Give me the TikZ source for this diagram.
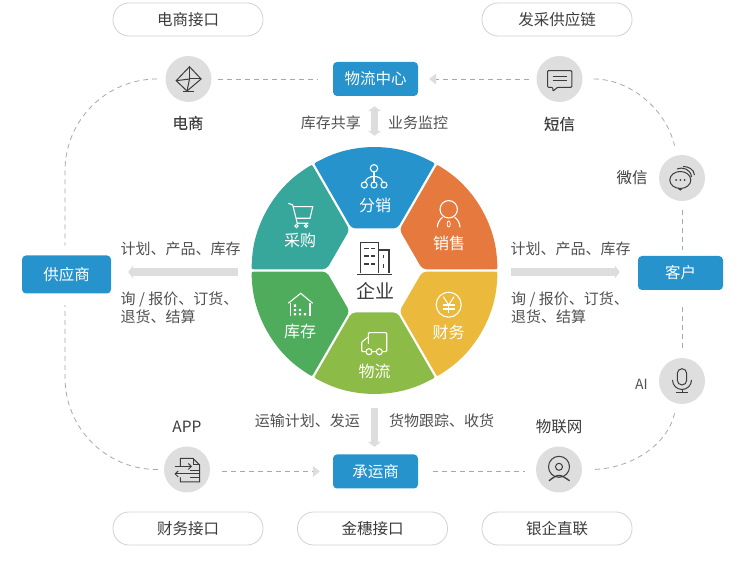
\documentclass[tikz,border=0pt]{standalone}
\usepackage{fontspec}
\setmainfont{Noto Sans CJK SC}
\newfontfamily\strongfont[FakeBold=0.25]{Noto Sans CJK SC}
\usetikzlibrary{arrows.meta}
\definecolor{boxblue}{HTML}{2793CC}
\definecolor{secteal}{HTML}{37A79C}
\definecolor{secorange}{HTML}{E67A3E}
\definecolor{secyellow}{HTML}{EBB93B}
\definecolor{secolive}{HTML}{8DBB48}
\definecolor{secgreen}{HTML}{4FAC5C}
\definecolor{roundgray}{HTML}{DEDEDE}
\definecolor{arrowgray}{HTML}{DDDDDD}
\definecolor{dashgray}{HTML}{A8A8A8}
\definecolor{pillgray}{HTML}{D2D2D2}
\definecolor{textgray}{HTML}{505050}
\definecolor{darkgray}{HTML}{3C3C3C}

\begin{document}
\begin{tikzpicture}[x=1pt,y=1pt,
    pill/.style={draw=pillgray,line width=0.8pt,fill=white,rounded corners=16pt,minimum width=150pt,minimum height=33pt,text=darkgray,font=\fontsize{15.5}{18}\selectfont},
    bluebox/.style={fill=boxblue,rounded corners=4pt,text=white,font=\fontsize{15.5}{18}\selectfont},
    roundbg/.style={circle,fill=roundgray,minimum size=46pt,inner sep=0pt},
    itemname/.style={text=darkgray,font=\fontsize{15.5}{18}\selectfont},
    sidenote/.style={text=textgray,align=left,inner sep=0pt,font=\fontsize{15}{18}\selectfont},
    seclabel/.style={text=white,font=\fontsize{16}{18}\selectfont},
    dashline/.style={draw=dashgray,line width=0.8pt,dash pattern=on 5pt off 4pt},
    bigarrow/.style={draw=arrowgray,line width=7.5pt},
    dashtip/.tip={Triangle[length=7pt,width=11pt,color=arrowgray]},
    bigtip/.tip={Triangle[length=5pt,width=13pt]},
    icon/.style={draw=darkgray,line width=1pt},
    wicon/.style={draw=white,line width=1.1pt}]
  \useasboundingbox (0,0) rectangle (749,572);
  \foreach \ang/\col in {0/boxblue,-60/secorange,-120/secyellow,180/secolive,120/secgreen,60/secteal} {
    \fill[\col,rotate around={\ang:(374.5,301.5)},rounded corners=4pt]
      (351.65,343.5) -- (317.5,402.7) .. controls (314,408.7) .. (322.5,413)
      arc[start angle=115,end angle=65,radius=123] .. controls (435,408.7) .. (431.5,402.7) -- (397.35,343.5) -- cycle;
  }
  \node[circle,minimum size=272pt,inner sep=0pt] (hub) at (374.5,300) {};
  \node[pill] (shoppingapi) at (188,552.5) {电商接口};
  \node[pill] (purchaseapi) at (557,552.5) {发采供应链};
  \node[pill] (financeapi) at (188,43.5) {财务接口};
  \node[pill] (jinsuiapi) at (372.5,43.5) {金穗接口};
  \node[pill] (bankapi) at (557,43.5) {银企直联};
  \node[bluebox,minimum width=85pt,minimum height=34pt] (center) at (375.5,493) {物流中心};
  \node[bluebox,minimum width=85pt,minimum height=34pt] (client) at (680.5,299) {客户};
  \node[bluebox,minimum width=89pt,minimum height=38pt] (supplier) at (66.5,297.5) {供应商};
  \node[bluebox,minimum width=85pt,minimum height=34pt] (carrier) at (375.5,100.5) {承运商};
  \node[roundbg] (elec) at (188.5,493) {};
  \node[roundbg] (sms) at (559.5,493) {};
  \node[roundbg] (wechat) at (682,394) {};
  \node[roundbg] (ai) at (682,191) {};
  \node[roundbg] (iot) at (559,102.5) {};
  \node[roundbg] (app) at (187,102.5) {};
  \node[itemname,font=\strongfont\fontsize{15.5}{18}\selectfont] (elecname) at (188,449) {电商};
  \node[itemname,font=\strongfont\fontsize{15.5}{18}\selectfont] (smsname) at (559.5,448) {短信};
  \node[itemname] (wechatname) at (632,394) {微信};
  \node[itemname,text=textgray,font=\fontsize{14}{18}\selectfont] (ainame) at (641.5,188) {AI};
  \node[itemname] (iotname) at (559,145.5) {物联网};
  \node[itemname] (appname) at (187,145.5) {APP};
  \node[sidenote,anchor=east] (stocknote) at (361,449) {库存共享};
  \node[sidenote,anchor=west] (monitornote) at (388,449) {业务监控};
  \node[sidenote,anchor=west] (supplierplan) at (120.5,323.5) {计划、产品、库存};
  \node[sidenote,anchor=north west] (supplierask) at (120.5,280) {询 / 报价、订货、\\退货、结算};
  \node[sidenote,anchor=west] (clientplan) at (510.5,323.5) {计划、产品、库存};
  \node[sidenote,anchor=north west] (clientask) at (511,280) {询 / 报价、订货、\\退货、结算};
  \node[sidenote,anchor=east] (shipnote) at (360,151) {运输计划、发运};
  \node[sidenote,anchor=west] (tracknote) at (389,151) {货物跟踪、收货};
  \node[seclabel] (distlabel) at (375,367) {分销};
  \node[seclabel] (salelabel) at (449,329) {销售};
  \node[seclabel] (fundlabel) at (448.5,240) {财务};
  \node[seclabel] (shiplabel) at (374.5,201) {物流};
  \node[seclabel] (stocklabel) at (300,241) {库存};
  \node[seclabel] (buylabel) at (300,332) {采购};
  \node[text=darkgray,font=\fontsize{19}{20}\selectfont] (firmlabel) at (375,281) {企业};
  \draw[dashline,-dashtip,shorten <=7.5pt,shorten >=11pt] (sms) -- (center);
  \draw[dashline,shorten <=6.5pt,shorten >=15pt] (elec) -- (center);
  \draw[dashline,rounded corners=92pt,shorten <=8.5pt,shorten >=10pt] (elec) -| ([xshift=-1.5pt]supplier.north);
  \draw[dashline,rounded corners=92pt,shorten <=6pt,shorten >=11.5pt] (app) -| ([xshift=-1.5pt]supplier.south);
  \draw[dashline,-dashtip,shorten <=12pt,shorten >=13pt] (app.east |- carrier.west) -- (carrier.west);
  \draw[dashline,shorten <=15pt,shorten >=11pt] (carrier.east) -- (carrier.east -| iot.west);
  \draw[dashline,shorten <=11pt,shorten >=10pt] (sms) to[out=0,in=103] (wechat);
  \draw[dashline,shorten <=9pt,shorten >=6pt] (wechat.south) -- (wechat.south |- client.north);
  \draw[dashline,shorten <=17pt,shorten >=8pt] (ai.north |- client.south) -- (ai.north);
  \draw[dashline,shorten <=10pt,shorten >=9pt] (ai) to[out=-103,in=0] (iot);
  \draw[bigarrow,-bigtip,shorten >=17pt] (hub.west) -- (hub.west -| supplier.east);
  \draw[bigarrow,-bigtip,shorten >=18pt] (hub.east) -- (hub.east -| client.west);
  \draw[bigarrow,bigtip-bigtip,shorten >=10pt] (hub.north) -- (hub.north |- center.south);
  \draw[bigarrow,-bigtip,shorten >=7.5pt] (hub.south) -- (hub.south |- carrier.north);
  \begin{scope}[shift={(elec)}]
    \draw[icon] (1,12.3) -- (12.6,0) -- (-1.5,-12) -- (-12.3,-1.7) -- cycle;
    \draw[icon] (1,12.3) -- (1,0) -- (12.6,0);
    \draw[icon] (-12.3,-1.7) -- (1,0) -- (-1.5,-12);
    \draw[icon] (-5.6,-12.6) -- (5.6,-12.6);
  \end{scope}
  \begin{scope}[shift={(sms)}]
    \draw[icon,rounded corners=1pt] (-12,8.3) -- (12.3,8.3) -- (12.3,-8.3) -- (-2,-8.3) -- (-6.7,-12.3) -- (-6.7,-8.3) -- (-12,-8.3) -- cycle;
    \draw[icon] (-7,2.3) -- (7,2.3);
    \draw[icon] (-7,-1.7) -- (7,-1.7);
  \end{scope}
  \begin{scope}[shift={(wechat)}]
    \draw[icon] (-1.7,-2) ellipse[x radius=10.5,y radius=8.5];
    \draw[icon] (-4,-10.3) -- (-1.5,-12) -- (0,-10.5);
    \draw[icon] (-5,9) .. controls (0,11.5) and (9,9) .. (9.5,1);
    \draw[icon] (1,11.5) .. controls (6,11.5) and (12,9) .. (12.5,3);
    \fill[darkgray] (-6,-2) circle (1pt) (-1.7,-2) circle (1pt) (2.6,-2) circle (1pt);
  \end{scope}
  \begin{scope}[shift={(ai)}]
    \draw[icon,rounded corners=4.7pt] (-4.7,12.3) rectangle (4.7,-4);
    \draw[icon] (-9.5,1) arc[start angle=180,end angle=360,radius=9.5];
    \draw[icon] (0,-8.5) -- (0,-12);
    \draw[icon] (-6,-12) -- (6,-12);
  \end{scope}
  \begin{scope}[shift={(iot)}]
    \draw[icon] (0,2.7) circle (10.5pt);
    \draw[icon] (0,2.7) circle (3.5pt);
    \draw[icon,line width=1.3pt] (-10,-11.3) .. controls (-6,-8) and (-3,-6) .. (0,-6) .. controls (3,-6) and (6,-8) .. (10.5,-11.3);
  \end{scope}
  \begin{scope}[shift={(app)}]
    \draw[icon] (-6.7,3.5) -- (-6.7,11) -- (6,11) -- (12.7,4.5) -- (12.7,-12.3) -- (-6.7,-12.3) -- (-6.7,-8);
    \draw[icon] (6,11) -- (6,4.5) -- (12.7,4.5);
    \draw[icon,-{Straight Barb[length=3pt]}] (-12.5,3) -- (5,3);
    \draw[icon,-{Straight Barb[length=3pt]}] (12.7,-4.5) -- (-12.5,-4.5);
    \draw[icon] (3,-0.7) -- (12.7,-0.7);
    \draw[icon] (3,-8.5) -- (12.7,-8.5);
  \end{scope}
  \draw[wicon] (374,403.7) circle (3.7pt);
  \draw[wicon] (364.3,387) circle (3pt) (374,387) circle (3pt) (384,387) circle (3pt);
  \draw[wicon] (374,400) -- (374,390);
  \draw[wicon] (365.5,390) .. controls (366,394) and (370,395.5) .. (374,395.5) .. controls (378,395.5) and (382,394) .. (382.5,390);
  \draw[wicon] (448.7,362.7) circle (8.7pt);
  \draw[wicon] (437.3,344.7) .. controls (437.5,349) and (439.5,352.5) .. (442.7,354.7);
  \draw[wicon] (460,344.7) .. controls (459.8,349) and (457.8,352.5) .. (454.7,354.7);
  \draw[wicon,line width=0.8pt] (448.7,348) ellipse[x radius=1.6,y radius=3];
  \draw[wicon] (448.7,267.3) circle (12.5pt);
  \draw[wicon] (443.3,275.3) -- (448.7,267) -- (454,275.3);
  \draw[wicon] (442.7,267) -- (454.7,267) (442.7,263) -- (454.7,263) (448.7,267) -- (448.7,258.7);
  \draw[wicon,rounded corners=1pt] (368.3,228) -- (368.3,239.3) -- (386.7,239.3) -- (386.7,220.3) -- (382.5,220.3);
  \draw[wicon,rounded corners=1pt] (368.3,235) -- (361.7,230) -- (361.7,220.3) -- (366,220.3);
  \draw[wicon] (369,220.3) circle (3pt) (379.3,220.3) circle (3pt) (372,220.3) -- (376.3,220.3);
  \draw[wicon] (288.3,268.7) -- (300.7,278.7) -- (312.7,268.7);
  \draw[wicon] (290.7,269) -- (290.7,256.3) (310,269) -- (310,256.3);
  \fill[white] (293.8,265.2) rectangle +(2.4,2.4) (293.8,260.8) rectangle +(2.4,2.4) (298.8,260.8) rectangle +(2.4,2.4)
    (293.8,256.5) rectangle +(2.4,2.4) (298.8,256.5) rectangle +(2.4,2.4) (303.8,256.5) rectangle +(2.4,2.4);
  \draw[wicon] (288.3,368.7) -- (292.7,367) -- (297.3,348.7) -- (308.3,348.7);
  \draw[wicon] (293.3,365.3) -- (312.7,365.3) -- (310,353.7) -- (296,353.7);
  \draw[wicon] (296.5,346) circle (1.6pt) (306,346) circle (1.6pt);
  \draw[draw=darkgray,line width=1.4pt] (360.7,298.7) -- (360.7,329.3) -- (378.3,329.3) -- (378.3,298.7);
  \draw[draw=darkgray,line width=1.4pt] (378.3,322) -- (389,322) -- (389,298.7);
  \draw[draw=darkgray,line width=1.4pt] (357.3,297.7) -- (391.7,297.7);
  \foreach \rowy in {323.7,316,308} {
    \draw[draw=darkgray,line width=1.2pt] (364,\rowy) -- (368.5,\rowy) (370.5,\rowy) -- (375,\rowy);
  }
  \draw[draw=darkgray,line width=1.2pt] (383.3,317) -- (383.3,313.7) (383.3,308) -- (383.3,303.7);
\end{tikzpicture}
\end{document}
